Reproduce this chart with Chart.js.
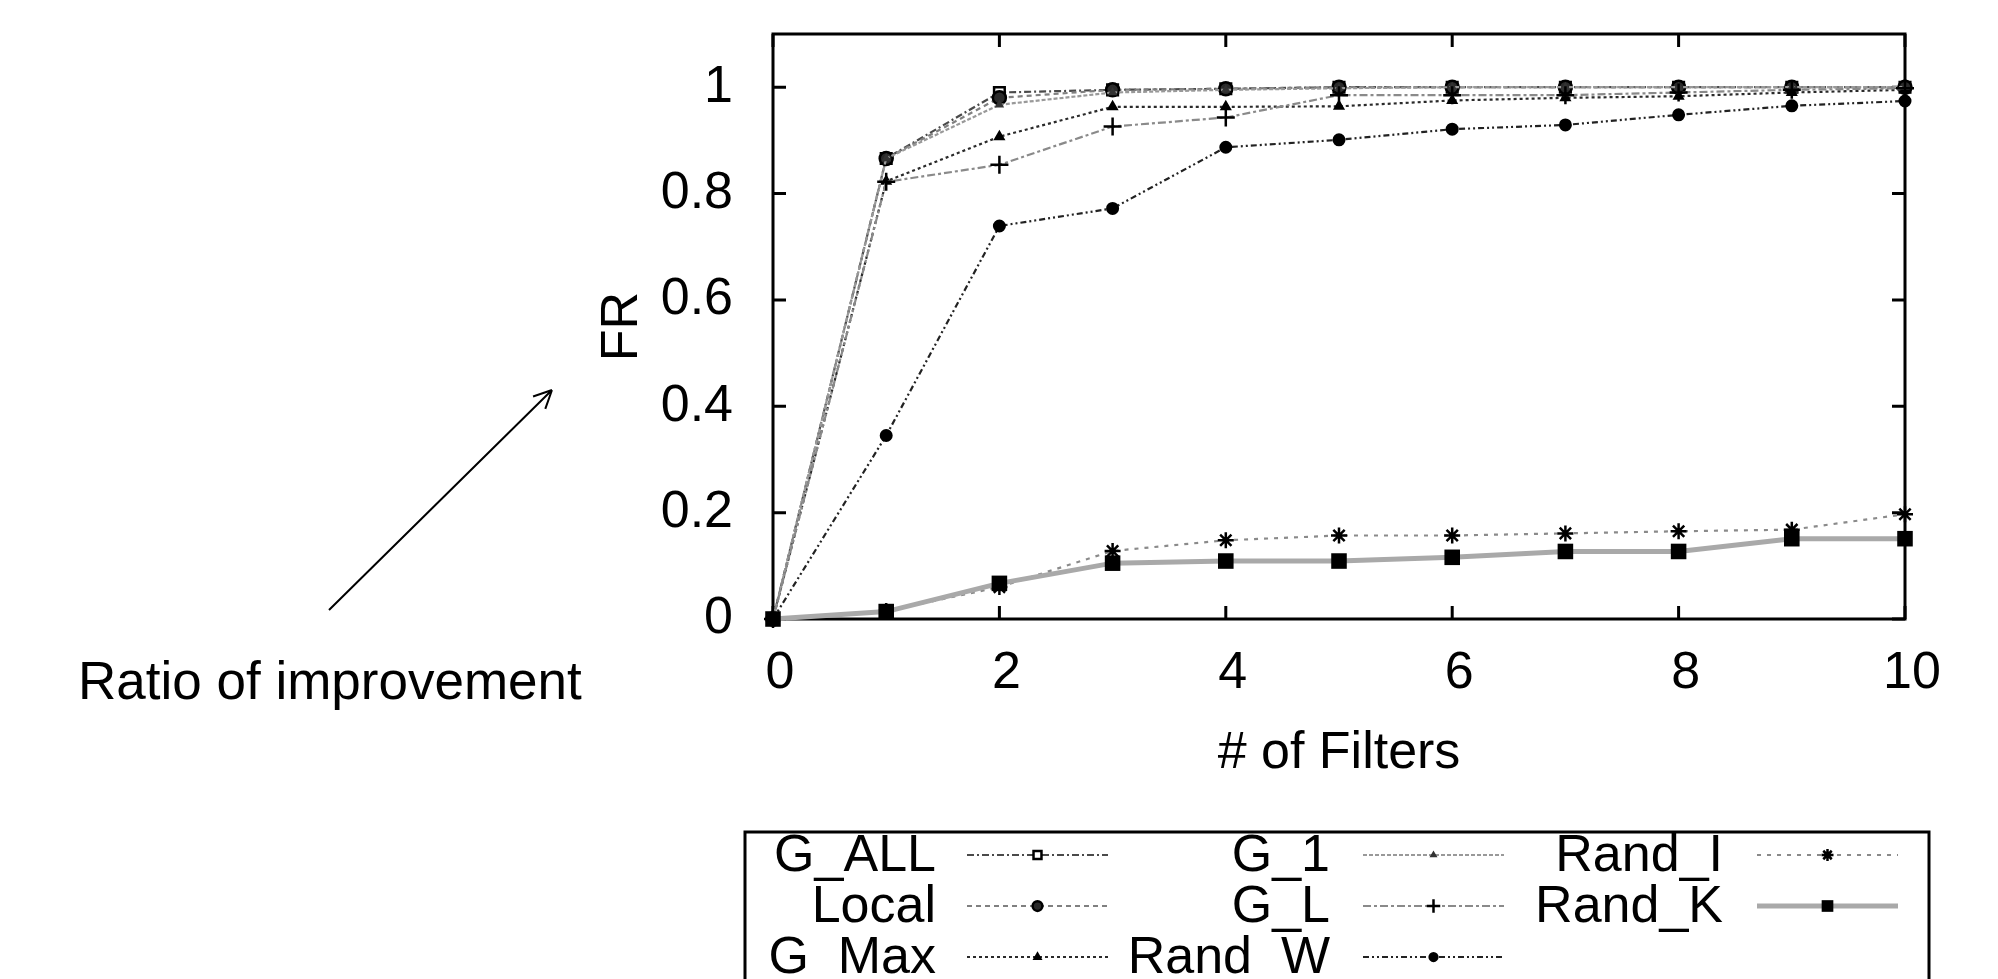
<!DOCTYPE html>
<html>
<head>
<meta charset="utf-8">
<script src="https://cdn.jsdelivr.net/npm/chart.js@4.4.1/dist/chart.umd.min.js"></script>
<style>
    html, body { margin: 0; padding: 0; background: #fff; }
    #c { display: block; }
</style>
</head>
<body>
<canvas id="c" width="1998" height="979"></canvas>
<script>
// x values (# of filters)
const filters = [0, 1, 2, 3, 4, 5, 6, 7, 8, 9, 10];

// FR per series
const gAll  = [0, 0.866, 0.990, 0.995, 0.997, 1.000, 1.000, 1.000, 1.000, 1.000, 1.000];
const local = [0, 0.866, 0.980, 0.995, 0.997, 1.000, 1.000, 1.000, 1.000, 1.000, 1.000];
const gMax  = [0, 0.823, 0.907, 0.963, 0.963, 0.964, 0.975, 0.980, 0.983, 0.990, 0.995];
const g1    = [0, 0.866, 0.967, 0.990, 0.995, 0.998, 1.000, 1.000, 1.000, 1.000, 1.000];
const gL    = [0, 0.822, 0.854, 0.926, 0.943, 0.985, 0.985, 0.985, 0.990, 0.995, 0.998];
const randW = [0, 0.345, 0.739, 0.772, 0.887, 0.901, 0.921, 0.929, 0.948, 0.965, 0.974];
const randI = [0, 0.015, 0.060, 0.128, 0.148, 0.157, 0.157, 0.161, 0.165, 0.168, 0.197];
const randK = [0, 0.014, 0.067, 0.105, 0.109, 0.109, 0.116, 0.127, 0.127, 0.151, 0.151];

const yTicks = [0, 0.2, 0.4, 0.6, 0.8, 1];
const xTicks = [0, 2, 4, 6, 8, 10];

const FONT = "'Liberation Sans', Arial, sans-serif";

function pts(arr) {
    return arr.map((v, i) => ({ x: filters[i], y: v }));
}

let nextOrder = 8;
function series(label, data, style) {
    // later series are drawn on top, like gnuplot
    nextOrder--;
    return Object.assign({
        label: label,
        data: pts(data),
        order: nextOrder,
        borderWidth: 2.2,
        pointBorderWidth: 2,
        pointHoverRadius: 0,
        tension: 0,
        fill: false,
        clip: false
    }, style);
}

const datasets = [
    series('G_ALL', gAll, {
        borderColor: '#4a4a4a', borderDash: [7, 3, 2, 3],
        pointStyle: 'rect', pointRadius: 7.5, pointBorderColor: '#000', pointBackgroundColor: '#fff', pointBorderWidth: 2.5
    }),
    series('Local', local, {
        borderColor: '#808080', borderDash: [5, 4],
        pointStyle: 'circle', pointRadius: 6.5, pointBorderColor: '#000', pointBackgroundColor: '#2a2a2a', pointBorderWidth: 2.5
    }),
    series('G_Max', gMax, {
        borderColor: '#2a2a2a', borderDash: [3, 3],
        pointStyle: 'triangle', pointRadius: 5, pointBorderColor: '#000', pointBackgroundColor: '#000'
    }),
    series('G_1', g1, {
        borderColor: '#999', borderDash: [4, 2],
        pointStyle: 'triangle', pointRadius: 3.5, pointBorderColor: '#333', pointBackgroundColor: '#333'
    }),
    series('G_L', gL, {
        borderColor: '#8a8a8a', borderDash: [8, 3, 3, 3],
        pointStyle: 'cross', pointRadius: 9, pointBorderColor: '#000', pointBorderWidth: 2.5
    }),
    series('Rand_W', randW, {
        borderColor: '#222', borderDash: [6, 3, 2, 3, 2, 3],
        pointStyle: 'circle', pointRadius: 5.5, pointBorderColor: '#000', pointBackgroundColor: '#000'
    }),
    series('Rand_I', randI, {
        borderColor: '#8a8a8a', borderDash: [4, 6],
        pointStyle: 'star', pointRadius: 8, pointBorderColor: '#000', pointBorderWidth: 2.5
    }),
    series('Rand_K', randK, {
        borderColor: '#a9a9a9', borderWidth: 5,
        pointStyle: 'rect', pointRadius: 11, pointBorderColor: '#000', pointBackgroundColor: '#000', pointBorderWidth: 0
    })
];

// frame + inward ticks on all four sides (gnuplot style)
const framePlugin = {
    id: 'frame',
    beforeDatasetsDraw(chart) {
        const { ctx, chartArea: a, scales } = chart;
        ctx.save();
        ctx.strokeStyle = '#000';
        ctx.lineWidth = 3;
        ctx.strokeRect(a.left, a.top, a.right - a.left, a.bottom - a.top);
        const tl = 13;
        ctx.beginPath();
        scales.y.ticks.forEach(t => {
            const py = scales.y.getPixelForValue(t.value);
            ctx.moveTo(a.left, py); ctx.lineTo(a.left + tl, py);
            ctx.moveTo(a.right, py); ctx.lineTo(a.right - tl, py);
        });
        scales.x.ticks.forEach(t => {
            const px = scales.x.getPixelForValue(t.value);
            ctx.moveTo(px, a.bottom); ctx.lineTo(px, a.bottom - tl);
            ctx.moveTo(px, a.top); ctx.lineTo(px, a.top + tl);
        });
        ctx.stroke();
        ctx.restore();
    }
};

// gnuplot-like key box under the plot: text, then line sample with marker
const keyPlugin = {
    id: 'key',
    afterDraw(chart) {
        const ctx = chart.ctx;
        ctx.save();
        ctx.strokeStyle = '#000';
        ctx.lineWidth = 3;
        ctx.strokeRect(745, 832, 1929 - 745, 200);

        const textRight = [936, 1330, 1723];
        const sampleLeft = [967, 1363, 1757];
        const sampleLen = 141;
        const rowY = [855, 906, 957];

        ctx.font = '52px ' + FONT;
        ctx.textAlign = 'right';
        ctx.textBaseline = 'middle';
        chart.data.datasets.forEach((ds, i) => {
            const col = Math.floor(i / 3), row = i % 3;
            const y = rowY[row];
            ctx.fillStyle = '#000';
            ctx.fillText(ds.label, textRight[col], y + 2);

            const x0 = sampleLeft[col];
            ctx.save();
            ctx.strokeStyle = ds.borderColor;
            ctx.lineWidth = ds.borderWidth;
            ctx.setLineDash(ds.borderDash || []);
            ctx.beginPath();
            ctx.moveTo(x0, y); ctx.lineTo(x0 + sampleLen, y);
            ctx.stroke();
            ctx.restore();

            ctx.save();
            ctx.strokeStyle = ds.pointBorderColor;
            ctx.fillStyle = ds.pointBackgroundColor || ds.pointBorderColor;
            ctx.lineWidth = ds.pointBorderWidth;
            Chart.helpers.drawPoint(ctx, {
                pointStyle: ds.pointStyle,
                radius: ds.pointRadius * 0.75,
                rotation: 0,
                borderWidth: ds.pointBorderWidth
            }, x0 + sampleLen / 2, y);
            ctx.restore();
        });
        ctx.restore();
    }
};

// "Ratio of improvement" note with its arrow
const notePlugin = {
    id: 'note',
    afterDraw(chart) {
        const ctx = chart.ctx;
        ctx.save();
        ctx.fillStyle = '#000';
        ctx.font = '53px ' + FONT;
        ctx.textAlign = 'left';
        ctx.textBaseline = 'alphabetic';
        ctx.fillText('Ratio of improvement', 78, 699);

        const x1 = 329, y1 = 610, x2 = 552, y2 = 390;
        ctx.strokeStyle = '#000';
        ctx.lineWidth = 2;
        ctx.beginPath();
        ctx.moveTo(x1, y1); ctx.lineTo(x2, y2);
        const ang = Math.atan2(y2 - y1, x2 - x1);
        const hl = 20;
        ctx.moveTo(x2, y2);
        ctx.lineTo(x2 - hl * Math.cos(ang - 0.45), y2 - hl * Math.sin(ang - 0.45));
        ctx.moveTo(x2, y2);
        ctx.lineTo(x2 - hl * Math.cos(ang + 0.45), y2 - hl * Math.sin(ang + 0.45));
        ctx.stroke();
        ctx.restore();
    }
};

new Chart(document.getElementById('c'), {
    type: 'line',
    data: { datasets: datasets },
    plugins: [framePlugin, keyPlugin, notePlugin],
    options: {
        responsive: false,
        animation: false,
        events: [],
        layout: { padding: { left: 560, right: 93, top: 34, bottom: 190 } },
        plugins: {
            legend: { display: false },
            tooltip: { enabled: false }
        },
        scales: {
            x: {
                type: 'linear',
                min: 0,
                max: 10,
                afterBuildTicks: s => { s.ticks = xTicks.map(v => ({ value: v })); },
                afterFit: s => { s.height = 170; s.paddingLeft = 0; s.paddingRight = 0; },
                grid: { display: false, drawTicks: false },
                border: { display: false },
                ticks: {
                    padding: 23,
                    labelOffset: 7,
                    color: '#000',
                    font: { family: FONT, size: 52 },
                    callback: v => String(v)
                },
                title: {
                    display: true,
                    text: '# of Filters',
                    color: '#000',
                    font: { family: FONT, size: 52 },
                    padding: { top: 0, bottom: 4 }
                }
            },
            y: {
                type: 'linear',
                min: 0,
                max: 1.1,
                afterBuildTicks: s => { s.ticks = yTicks.map(v => ({ value: v })); },
                afterFit: s => { s.width = 213; s.paddingTop = 0; s.paddingBottom = 0; },
                grid: { display: false, drawTicks: false },
                border: { display: false },
                ticks: {
                    padding: 40,
                    color: '#000',
                    font: { family: FONT, size: 52 },
                    callback: v => String(+Number(v).toFixed(1))
                },
                title: {
                    display: true,
                    text: 'FR',
                    color: '#000',
                    font: { family: FONT, size: 52 },
                    padding: { top: 31, bottom: 0 }
                }
            }
        }
    }
});
</script>
</body>
</html>
